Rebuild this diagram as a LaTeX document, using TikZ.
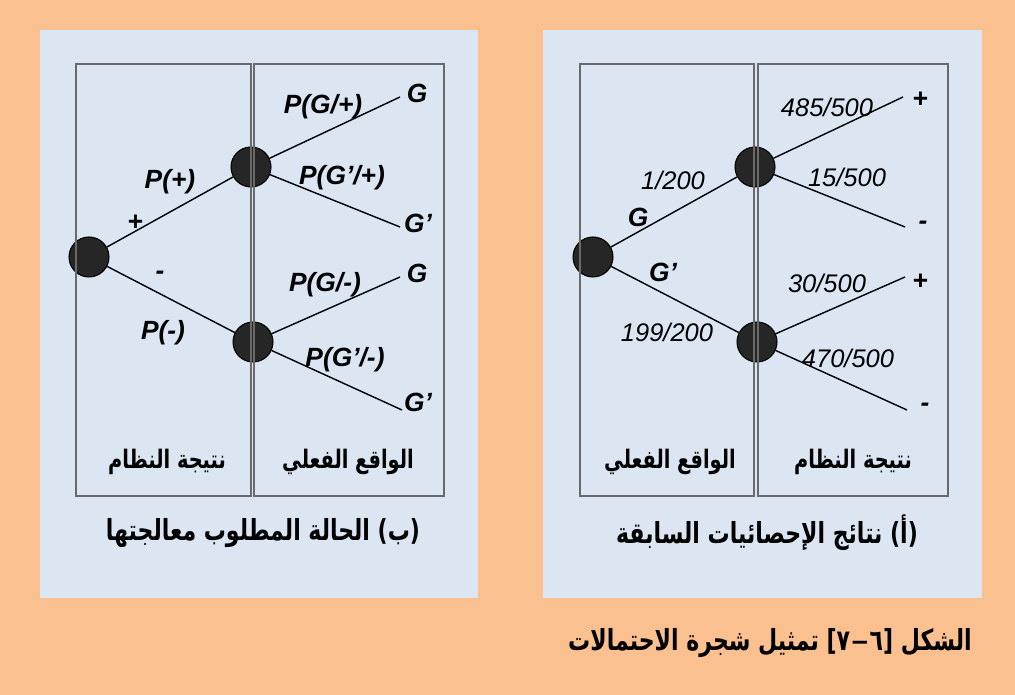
\documentclass[tikz,border=0pt]{standalone}
\usepackage{fontspec}
\setmainfont{Liberation Sans}
\newfontfamily\arabicfont[Script=Arabic, FakeStretch=0.76]{DejaVu Sans}
\newfontfamily\latinb[FakeStretch=0.76]{DejaVu Sans}
\TeXXeTstate=1
\definecolor{bgorange}{HTML}{FAC08F}
\definecolor{panelblue}{HTML}{DCE6F2}
\definecolor{boxgray}{HTML}{6A6A6A}
\definecolor{dotfill}{HTML}{262626}
\tikzset{
  panel/.style={fill=panelblue, draw=none},
  colbox/.style={draw=boxgray, line width=1.2pt},
  dot/.style={circle, fill=dotfill, draw=black, line width=0.6pt, minimum size=0.8cm, inner sep=0pt},
  branch/.style={draw=black, line width=0.8pt},
  lab/.style={font=\fontsize{15}{15}\selectfont\bfseries\itshape, inner sep=0pt},
  num/.style={font=\fontsize{14.5}{14.5}\selectfont\itshape, inner sep=0pt},
  ar/.style={font=\fontsize{14.5}{17}\selectfont\arabicfont\bfseries, inner sep=0pt},
  arcap/.style={font=\fontsize{16.5}{19}\selectfont\arabicfont\bfseries, inner sep=0pt}
}
\begin{document}
\begin{tikzpicture}[x=0.02cm, y=-0.02cm]
\useasboundingbox (0,0) rectangle (1015,695);
\fill[bgorange] (0,0) rectangle (1015,695);
\path[panel] (40,30) rectangle (478,598);
\path[panel] (543,30) rectangle (982,598);

% ---------- left panel (b) ----------
\node[dot] (L0) at (89,257) {};
\node[dot] (L1) at (251,167) {};
\node[dot] (L2) at (253,342) {};
\coordinate (L1a) at (400,97);
\coordinate (L1b) at (400,227);
\coordinate (L2a) at (400,277);
\coordinate (L2b) at (402,410);
\draw[branch] (L0) -- (L1);
\draw[branch] (L0) -- (L2);
\draw[branch] (L1) -- (L1a);
\draw[branch] (L1) -- (L1b);
\draw[branch] (L2) -- (L2a);
\draw[branch] (L2) -- (L2b);
\draw[colbox] (76,64) rectangle (251,496);
\draw[colbox] (254,64) rectangle (444,496);

\node[lab] (lgA) at (417,93) {G};
\node[lab] (lgB) at (418,223) {G’};
\node[lab] (lgC) at (417,273) {G};
\node[lab] (lgD) at (418,402) {G’};
\node[lab] (lpGp) at (323,107) {P(G/+)};
\node[lab] (lpGpp) at (342,178) {P(G’/+)};
\node[lab] (lpp) at (170,182) {P(+)};
\node[lab] (lplus) at (135,223) {+};
\node[lab] (lminus) at (160,275) {-};
\node[lab] (lpm) at (163,333) {P(-)};
\node[lab] (lpGm) at (325,285) {P(G/-)};
\node[lab] (lpGpm) at (345,360) {P(G’/-)};
\node[ar] (lt1) at (167,462) {\beginR نتيجة النظام\endR};
\node[ar] (lt2) at (348,462) {\beginR الواقع الفعلي\endR};
\node[arcap] (lcap) at (263,533) {\beginR(ب) الحالة المطلوب معالجتها\endR};

% ---------- right panel (a) ----------
\node[dot] (R0) at (593,257) {};
\node[dot] (R1) at (755,167) {};
\node[dot] (R2) at (757,342) {};
\coordinate (R1a) at (903,97);
\coordinate (R1b) at (905,227);
\coordinate (R2a) at (905,277);
\coordinate (R2b) at (907,410);
\draw[branch] (R0) -- (R1);
\draw[branch] (R0) -- (R2);
\draw[branch] (R1) -- (R1a);
\draw[branch] (R1) -- (R1b);
\draw[branch] (R2) -- (R2a);
\draw[branch] (R2) -- (R2b);
\draw[colbox] (580,64) rectangle (754,496);
\draw[colbox] (758,64) rectangle (948,496);

\node[lab] (rpA) at (920,100) {+};
\node[lab] (rmB) at (923,225) {-};
\node[lab] (rpC) at (920,282) {+};
\node[lab] (rmD) at (925,407) {-};
\node[num] (r485) at (827,107) {485/500};
\node[num] (r15) at (847,177) {15/500};
\node[num] (r1) at (673,180) {1/200};
\node[lab] (rG) at (638,217) {G};
\node[lab] (rGp) at (663,272) {G’};
\node[num] (r30) at (827,283) {30/500};
\node[num] (r199) at (667,332) {199/200};
\node[num] (r470) at (848,358) {470/500};
\node[ar] (rt1) at (670,462) {\beginR الواقع الفعلي\endR};
\node[ar] (rt2) at (853,462) {\beginR نتيجة النظام\endR};
\node[arcap] (rcap) at (767,533) {\beginR(أ) نتائج الإحصائيات السابقة\endR};

% ---------- figure caption ----------
\node[arcap, anchor=east] (figcap) at (972,643) {\beginR الشكل \beginL{\latinb[}٧{\rmfamily\bfseries\kern1pt–\kern1pt}٦{\latinb]}\endL{} تمثيل شجرة الاحتمالات\endR};
\end{tikzpicture}
\end{document}
